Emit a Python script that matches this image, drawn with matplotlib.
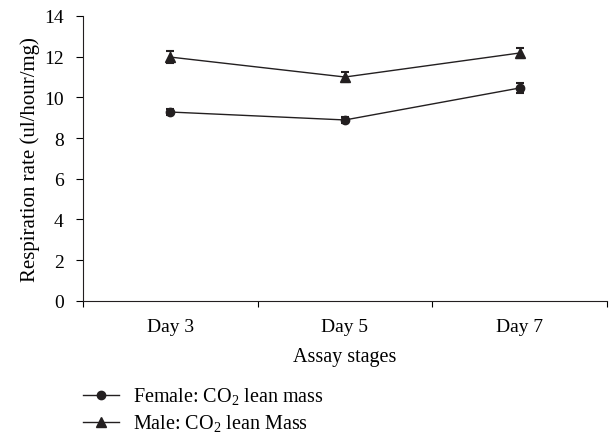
import matplotlib
matplotlib.use('Agg')
import matplotlib.pyplot as plt
from matplotlib.lines import Line2D
import numpy as np

plt.rcParams['font.family'] = ['Liberation Serif', 'DejaVu Serif']
plt.rcParams['mathtext.fontset'] = 'custom'
plt.rcParams['mathtext.rm'] = 'Liberation Serif'

days = ['Day 3', 'Day 5', 'Day 7']
female = [9.28, 8.89, 10.46]
female_err = [0.15, 0.15, 0.25]
male = [11.98, 11.0, 12.18]
male_err = [0.3, 0.26, 0.25]
labels = [r'Female: CO$_2$ lean mass', r'Male: CO$_2$ lean Mass']

col = '#231f20'
fig = plt.figure(figsize=(6.1, 4.35), dpi=100)
ax = fig.add_axes([0.136, 0.306, 0.859, 0.655])

x = np.arange(len(days))
ax.errorbar(x, female, yerr=female_err, color=col, marker='o', markersize=6,
            linewidth=1, capsize=3, elinewidth=1, capthick=1.5)
ax.errorbar(x, male, yerr=male_err, color=col, marker='^', markersize=7,
            linewidth=1, capsize=3, elinewidth=1, capthick=1.5)

ax.set_xlim(-0.5, 2.5)
ax.set_ylim(0, 14)
ax.set_yticks(range(0, 15, 2))
ax.set_xticks(x)
ax.set_xticklabels(days)
ax.set_xticks([-0.5, 0.5, 1.5, 2.5], minor=True)
ax.tick_params(axis='x', which='major', length=0, labelsize=14, pad=12)
ax.tick_params(axis='x', which='minor', length=4, direction='out', width=0.8)
ax.tick_params(axis='y', length=5, direction='out', labelsize=14, width=0.8, pad=9)
for s in ['top', 'right']:
    ax.spines[s].set_visible(False)
for s in ['left', 'bottom']:
    ax.spines[s].set_linewidth(0.8)
    ax.spines[s].set_color(col)

ax.set_xlabel('Assay stages', fontsize=14.5, labelpad=9)
ax.set_ylabel('Respiration rate (ul/hour/mg)', fontsize=15, labelpad=3)

h = [Line2D([], [], color=col, marker='o', markersize=6, linewidth=1),
     Line2D([], [], color=col, marker='^', markersize=7, linewidth=1)]
fig.legend(h, labels, loc='center left', bbox_to_anchor=(0.136, 0.055), frameon=False,
           fontsize=14.5, handlelength=1.8, labelspacing=0.3, borderpad=0,
           borderaxespad=0, handletextpad=0.7)

fig.savefig('out.png', dpi=100)
